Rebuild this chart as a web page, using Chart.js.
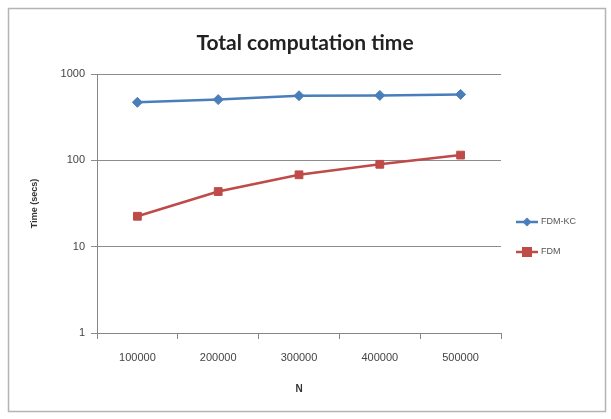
<!DOCTYPE html>
<html>
<head>
<meta charset="utf-8">
<script src="https://cdn.jsdelivr.net/npm/chart.js@4/dist/chart.umd.min.js"></script>
<style>
html,body{margin:0;padding:0;background:#fff;}
canvas{display:block;}
</style>
</head>
<body>
<canvas id="c" width="611" height="419"></canvas>
<script>
const categories = ['100000','200000','300000','400000','500000'];
const fdmKC = [470, 505, 560, 565, 580];
const fdm = [22.5, 43.5, 68, 90, 115];
const yTicks = [1, 10, 100, 1000];
const titleText = 'Total computation time';
const yTitle = 'Time (secs)';
const xTitle = 'N';

const blue = '#4a7ebb';
const red = '#be4b48';

const framePlugin = {
  id: 'frame',
  beforeDraw(chart) {
    const ctx = chart.ctx;
    ctx.save();
    ctx.fillStyle = '#fff';
    ctx.fillRect(0, 0, chart.width, chart.height);
    ctx.strokeStyle = '#b4b4b4';
    ctx.lineWidth = 1.5;
    ctx.strokeRect(8.5, 8.5, 597, 403);
    ctx.restore();
  },
  afterDraw(chart) {
    const ctx = chart.ctx;
    ctx.save();
    ctx.fillStyle = '#222';
    ctx.font = 'bold 21px Lato, "Open Sans", sans-serif';
    ctx.textAlign = 'center';
    ctx.textBaseline = 'middle';
    ctx.fillText(titleText, 305, 43);
    ctx.restore();
  }
};

const legendPlugin = {
  id: 'customLegend',
  afterDraw(chart) {
    const ctx = chart.ctx;
    const items = [
      {label: 'FDM-KC', color: blue, style: 'diamond', y: 222},
      {label: 'FDM', color: red, style: 'square', y: 252}
    ];
    ctx.save();
    items.forEach(it => {
      ctx.strokeStyle = it.color;
      ctx.lineWidth = 2.5;
      ctx.beginPath();
      ctx.moveTo(516, it.y);
      ctx.lineTo(538, it.y);
      ctx.stroke();
      ctx.fillStyle = it.color;
      ctx.beginPath();
      if (it.style === 'diamond') {
        ctx.moveTo(527, it.y - 4.5);
        ctx.lineTo(531.5, it.y);
        ctx.lineTo(527, it.y + 4.5);
        ctx.lineTo(522.5, it.y);
        ctx.closePath();
      } else {
        ctx.rect(522, it.y - 5, 10, 10);
      }
      ctx.fill();
      ctx.fillStyle = '#555';
      ctx.font = '9px "Liberation Sans", Arial, sans-serif';
      ctx.textBaseline = 'middle';
      ctx.fillText(it.label, 541, it.y);
    });
    ctx.restore();
  }
};

new Chart(document.getElementById('c'), {
  type: 'line',
  data: {
    labels: categories,
    datasets: [
      {
        label: 'FDM-KC',
        data: fdmKC,
        borderColor: blue,
        backgroundColor: blue,
        borderWidth: 2.5,
        pointStyle: 'rectRot',
        pointRadius: 5,
        pointBorderWidth: 1,
        tension: 0
      },
      {
        label: 'FDM',
        data: fdm,
        borderColor: red,
        backgroundColor: red,
        borderWidth: 2.5,
        pointStyle: 'rect',
        pointRadius: 5.5,
        pointBorderWidth: 1,
        tension: 0
      }
    ]
  },
  options: {
    responsive: false,
    animation: false,
    devicePixelRatio: 1,
    layout: {padding: {left: 20, right: 110, top: 74, bottom: 20}},
    plugins: {
      legend: {display: false},
      tooltip: {enabled: false},
      title: {display: false}
    },
    scales: {
      x: {
        type: 'category',
        offset: true,
        border: {display: true, color: '#868686', width: 1},
        grid: {offset: true, drawOnChartArea: false, drawTicks: true, tickLength: 6, color: '#868686'},
        ticks: {color: '#444', font: {family: '"Liberation Sans", Arial, sans-serif', size: 11}, padding: 12, maxRotation: 0},
        title: {display: true, text: xTitle, color: '#333', font: {family: '"Liberation Sans", Arial, sans-serif', size: 10, weight: 'bold'}, padding: {top: 4, bottom: 4}},
        afterFit(scale) { scale.height = 66; }
      },
      y: {
        type: 'logarithmic',
        min: 1,
        max: 1000,
        border: {display: true, color: '#868686', width: 1},
        grid: {drawTicks: true, tickLength: 6, color: '#8c8c8c', lineWidth: 1},
        ticks: {
          color: '#444',
          font: {family: '"Liberation Sans", Arial, sans-serif', size: 11},
          padding: 6,
          callback: (v) => String(v)
        },
        afterBuildTicks(scale) {
          scale.ticks = yTicks.map(v => ({value: v}));
        },
        title: {display: true, text: yTitle, color: '#333', font: {family: '"Liberation Sans", Arial, sans-serif', size: 9, weight: 'bold'}, padding: {top: 9, bottom: 0}},
        afterFit(scale) { scale.width = 77; }
      }
    }
  },
  plugins: [framePlugin, legendPlugin]
});
</script>
</body>
</html>
